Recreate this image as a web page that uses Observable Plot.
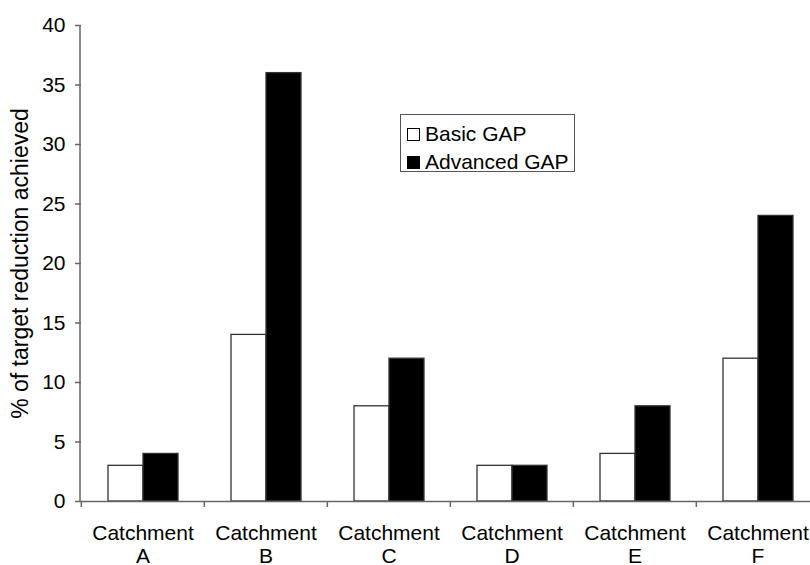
<!DOCTYPE html>
<html><head><meta charset="utf-8">
<script src="https://cdn.jsdelivr.net/npm/d3@7"></script>
<script src="https://cdn.jsdelivr.net/npm/@observablehq/plot@0.6"></script>
<style>
html,body{margin:0;padding:0;background:#fff;overflow:hidden;}
#wrap{position:relative;width:810px;height:565px;overflow:hidden;font-family:"Liberation Sans",Arial,sans-serif;}
#chart{width:824px;}
#chart svg{display:block;max-width:none !important;width:824px !important;height:565px !important;}
#legend{position:absolute;left:400px;top:114px;width:175px;height:58px;border:1px solid #555;background:#fff;font-size:21px;color:#000;box-sizing:border-box;}
.item{position:absolute;left:6px;display:flex;align-items:center;height:24px;line-height:24px;}
.sw{width:13px;height:13px;border:1px solid #000;margin-right:5px;box-sizing:border-box;}
</style></head><body>
<div id="wrap"><div id="chart"></div><div id="legend"></div></div>
<script>
const categories = ["Catchment\nA","Catchment\nB","Catchment\nC","Catchment\nD","Catchment\nE","Catchment\nF"];
const series = ["Basic GAP","Advanced GAP"];
const basicValues = [3,14,8,3,4,12];
const advancedValues = [4,36,12,3,8,24];
const yTicks = [0,5,10,15,20,25,30,35,40];
const seriesFills = ["#ffffff","#000000"];

const data = categories.flatMap((c,i)=>[
  {category:c, series:series[0], value:basicValues[i]},
  {category:c, series:series[1], value:advancedValues[i]}
]);

const W=824, H=565, mL=80, mR=4, mT=25, mB=64;
const band=(W-mL-mR)/categories.length;
const font='"Liberation Sans", Arial, sans-serif';

const plot = Plot.plot({
  width:W, height:H, marginLeft:mL, marginRight:mR, marginTop:mT, marginBottom:mB,
  style:{fontFamily:font, fontSize:"21px", color:"#000", background:"#fff", overflow:"visible"},
  fx:{domain:categories, padding:0, label:null, axis:null},
  x:{domain:series, paddingInner:0, paddingOuter:0.737, axis:null},
  y:{domain:[0,40], axis:null},
  color:{domain:series, range:seriesFills},
  marks:[
    Plot.barY(data,{fx:"category", x:"series", y:"value", fill:"series", stroke:"#333", strokeWidth:1.3, inset:0}),
    Plot.ruleY([0],{stroke:"#666", strokeWidth:1.5}),
    Plot.axisY({ticks:yTicks, tickSize:6, tickPadding:10, stroke:"#666", strokeWidth:1.5, label:null, fontSize:21}),
    Plot.axisY({ticks:[], tickSize:0, label:"% of target reduction achieved", labelAnchor:"center", labelArrow:"none", labelOffset:70, fontSize:23, dy:5}),
    Plot.axisFx({anchor:"bottom", tickSize:0, tickPadding:22, label:null, lineHeight:1.1, fontSize:21}),
    Plot.axisFx({anchor:"bottom", tickSize:6, text:null, label:null, dx:-band/2, stroke:"#666", strokeWidth:1.5})
  ]
});
document.getElementById("chart").appendChild(plot);

// y-axis line drawn from the plot's own y scale
const ys = plot.scale("y");
d3.select(plot).append("line")
  .attr("x1", mL).attr("x2", mL)
  .attr("y1", ys.apply(0)).attr("y2", ys.apply(40))
  .attr("stroke","#666").attr("stroke-width",1.5);

// legend
const leg = d3.select("#legend");
series.forEach((s,i)=>{
  const it = leg.append("div").attr("class","item").style("top", (7+i*28)+"px");
  it.append("div").attr("class","sw").style("background", seriesFills[i]);
  it.append("span").text(s);
});
</script>
</body></html>
